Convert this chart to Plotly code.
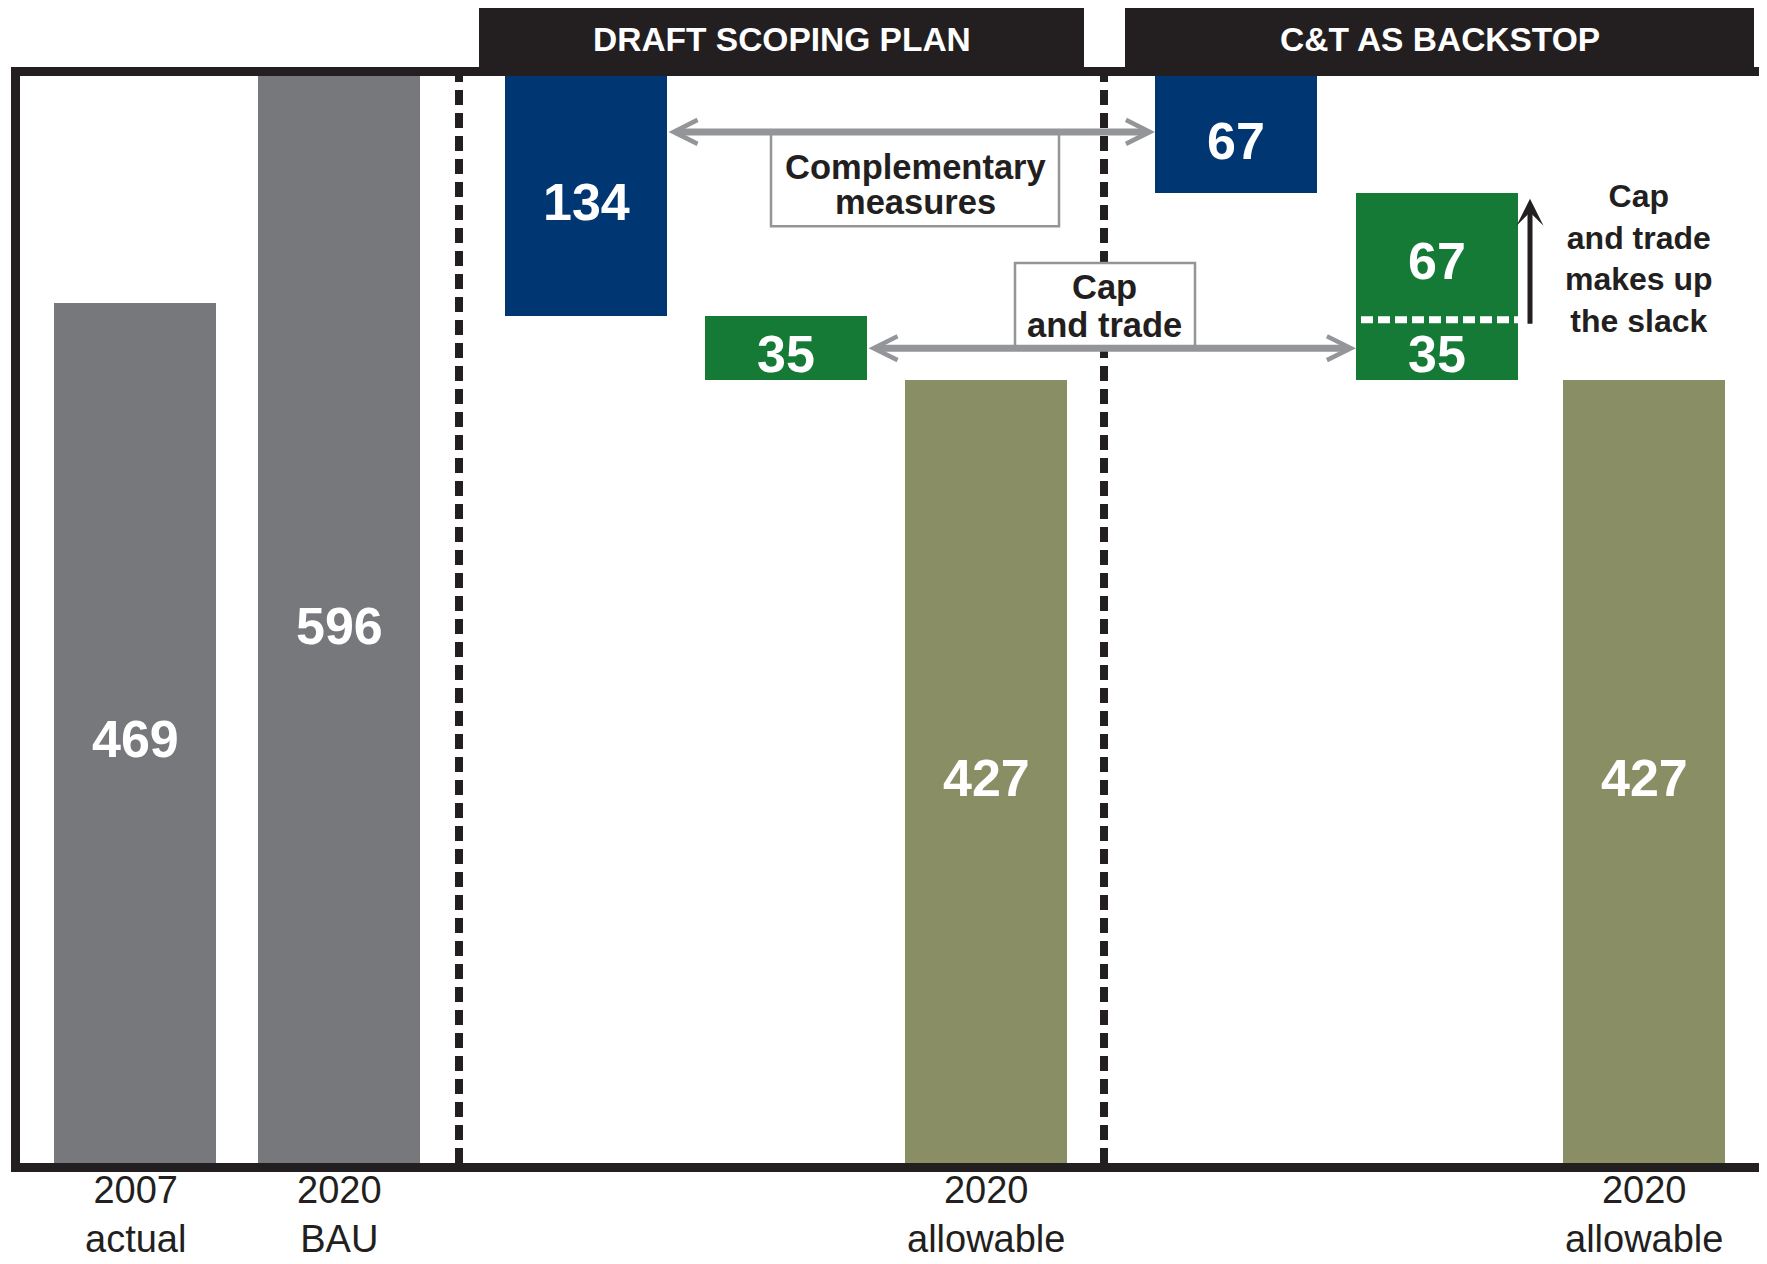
import plotly.graph_objects as go

# ---------------- data ----------------
emissions_2007_actual = 469
emissions_2020_bau = 596
emissions_2020_allowable = 427
draft_plan_reductions = [134, 35]          # complementary measures, cap and trade
backstop_reductions = [67, 67, 35]         # complementary measures, C&T slack, cap and trade
section_titles = ["DRAFT SCOPING PLAN", "C&T AS BACKSTOP"]
tick_labels = [["2007", "actual"], ["2020", "BAU"], ["2020", "allowable"], ["2020", "allowable"]]
complementary_label = ["Complementary", "measures"]
cap_trade_label = ["Cap", "and trade"]
slack_label = ["Cap", "and trade", "makes up", "the slack"]

# ---------------- layout constants ----------------
OFF = 8                                     # page body margin of the browser
W, H = 1767 - OFF, 1264 - OFF
PL, PT, PW, PH = 20 - OFF, 76 - OFF, 1739, 1087   # plot area in figure px
XMAX = PW / 100.0
YMAX = 593
slot_x = [1.15, 3.19, 5.66, 7.66, 9.66, 12.16, 14.17, 16.24]
BW = 1.62
divider_x = [4.39, 10.84]

GRAY = "#77787b"
BLUE = "#003671"
GREEN = "#147a36"
OLIVE = "#8a8e64"
DARK = "#231f20"
ARROW = "#939598"
SANS = "Liberation Sans, Arial, sans-serif"


def pxy(py):
    """screen px (y) -> paper y"""
    return (PT + PH - (py - OFF)) / PH


def pxx(px):
    """screen px (x) -> paper x"""
    return ((px - OFF) - PL) / PW


# ---------------- bars (waterfall) ----------------
c1, c2 = draft_plan_reductions
b1, b2, b3 = backstop_reductions
bars = [
    # slot, value, base, colour
    (0, emissions_2007_actual, 0, GRAY),
    (1, emissions_2020_bau, 0, GRAY),
    (2, c1, emissions_2020_bau - c1, BLUE),
    (3, c2, emissions_2020_bau - c1 - c2, GREEN),
    (4, emissions_2020_allowable, 0, OLIVE),
    (5, b1, emissions_2020_bau - b1, BLUE),
    (6, b2, emissions_2020_bau - b1 - b2, GREEN),
    (6, b3, emissions_2020_bau - b1 - b2 - b3, GREEN),
    (7, emissions_2020_allowable, 0, OLIVE),
]

fig = go.Figure()
for slot, val, base, col in bars:
    fig.add_trace(go.Bar(x=[slot_x[slot]], y=[val], base=[base], width=BW,
                         marker=dict(color=col, line=dict(width=0)),
                         showlegend=False, hoverinfo="skip"))

ann = []
# value labels, centred in the visible part of each bar
for slot, val, base, col in bars:
    top = min(base + val, YMAX)
    ann.append(dict(xref="x", yref="y", x=slot_x[slot], y=(base + top) / 2, yshift=-6,
                    text=str(val), showarrow=False, xanchor="center", yanchor="middle",
                    font=dict(family=SANS, size=52, color="white", weight="bold")))

shapes = []
# dashed dividers
for dx in divider_x:
    shapes.append(dict(type="line", xref="x", yref="paper", x0=dx, x1=dx, y0=0, y1=1,
                       line=dict(color=DARK, width=8, dash="15px,8px")))

# white dotted separator inside the stacked C&T bar
sep_y = emissions_2020_bau - b1 - b2
shapes.append(dict(type="line", xref="x", yref="y", x0=slot_x[6] - BW / 2 + 0.05,
                   x1=slot_x[6] + BW / 2, y0=sep_y - 2, y1=sep_y - 2,
                   line=dict(color="white", width=7, dash="12px,5px")))

# label boxes
arrow1_y = emissions_2020_bau - b1 / 2
arrow2_y = emissions_2020_allowable + c2 / 2
shapes.append(dict(type="rect", xref="x", yref="y", x0=7.51, x1=10.39, y0=511, y1=arrow1_y,
                   line=dict(color=ARROW, width=2.5), fillcolor="white"))
shapes.append(dict(type="rect", xref="x", yref="y", x0=9.95, x1=11.75, y0=arrow2_y, y1=491,
                   line=dict(color=ARROW, width=2.5), fillcolor="white"))

# header boxes
header_px = [(479, 1084), (1125, 1754)]
for x0p, x1p in header_px:
    shapes.append(dict(type="rect", xref="paper", yref="paper", x0=pxx(x0p), x1=pxx(x1p),
                       y0=pxy(72), y1=pxy(8), line=dict(width=0), fillcolor=DARK))

# frame
shapes.append(dict(type="rect", xref="paper", yref="paper",
                   x0=-4.5 / PW, x1=1 + 4.5 / PW, y0=-4.5 / PH, y1=1 + 4.5 / PH,
                   line=dict(color=DARK, width=9), fillcolor="rgba(0,0,0,0)"))

# header titles
for title, (x0p, x1p) in zip(section_titles, header_px):
    ann.append(dict(xref="paper", yref="paper", x=pxx((x0p + x1p) / 2), y=pxy(40),
                    text=title, showarrow=False, xanchor="center", yanchor="middle",
                    font=dict(family=SANS, size=33.5, color="white", weight="bold")))

# category labels under the frame
for slot, lines in zip([0, 1, 4, 7], tick_labels):
    ann.append(dict(xref="x", yref="paper", x=slot_x[slot], y=pxy(1214),
                    text="<br>".join(lines), showarrow=False,
                    xanchor="center", yanchor="middle",
                    font=dict(family=SANS, size=38, color=DARK)))


def text_lines(lines, x, y_list, size=34.5):
    for line, y in zip(lines, y_list):
        ann.append(dict(xref="x", yref="y", x=x, y=y, text=line, showarrow=False,
                        xanchor="center", yanchor="middle",
                        font=dict(family=SANS, size=size, color=DARK, weight="bold")))


text_lines(complementary_label, 8.95, [543.4, 524.3])
text_lines(cap_trade_label, 10.84, [477.7, 457.4])
# slack note as one multi-line block
ann.append(dict(xref="x", yref="y", x=16.19, y=493.5, text="<br>".join(slack_label),
                showarrow=False, xanchor="center", yanchor="middle",
                font=dict(family=SANS, size=32, color=DARK, weight="bold")))

# arrows
ann.append(dict(xref="x", yref="y", axref="x", ayref="y",
                x=slot_x[5] - BW / 2, y=arrow1_y, ax=slot_x[2] + BW / 2, ay=arrow1_y,
                text="", showarrow=True, arrowside="end+start", arrowhead=5, startarrowhead=5,
                arrowsize=0.67, startarrowsize=0.67, arrowwidth=7, arrowcolor=ARROW))
ann.append(dict(xref="x", yref="y", axref="x", ayref="y",
                x=slot_x[6] - BW / 2, y=arrow2_y, ax=slot_x[3] + BW / 2, ay=arrow2_y,
                text="", showarrow=True, arrowside="end+start", arrowhead=5, startarrowhead=5,
                arrowsize=0.67, startarrowsize=0.67, arrowwidth=7, arrowcolor=ARROW))
ax_black = slot_x[6] + BW / 2 + 0.12
ann.append(dict(xref="x", yref="y", axref="x", ayref="y",
                x=ax_black, y=emissions_2020_bau - b1 - 3, ax=ax_black, ay=sep_y - 5,
                text="", showarrow=True, arrowhead=3, arrowsize=0.9, arrowwidth=5,
                arrowcolor=DARK))

fig.update_layout(
    width=W, height=H,
    margin=dict(l=PL, r=W - PL - PW, t=PT, b=H - PT - PH, pad=0),
    paper_bgcolor="white", plot_bgcolor="white",
    barmode="overlay", bargap=0,
    xaxis=dict(range=[0, XMAX], visible=False, fixedrange=True),
    yaxis=dict(range=[0, YMAX], visible=False, fixedrange=True),
    shapes=shapes, annotations=ann,
)

fig.write_html("out.html")
